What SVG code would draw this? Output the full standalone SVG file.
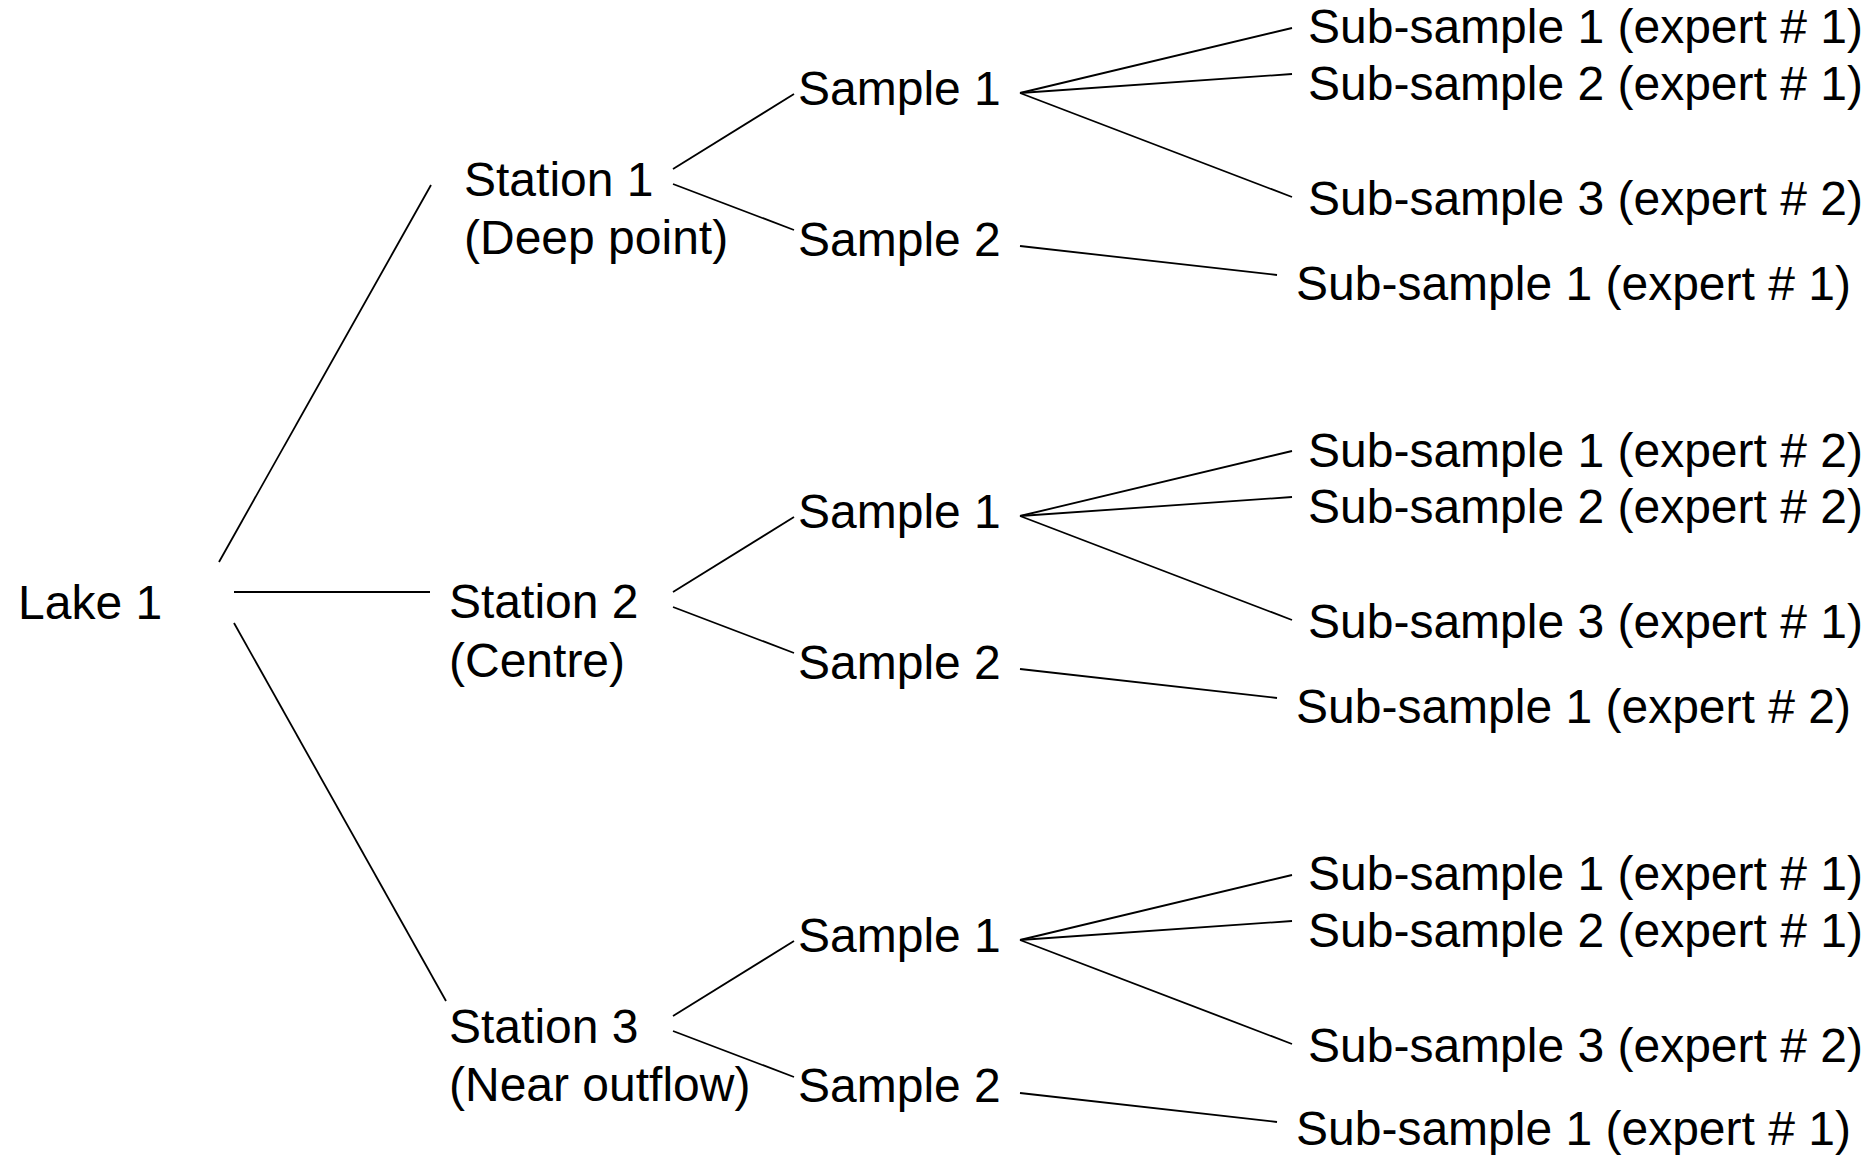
<svg xmlns="http://www.w3.org/2000/svg" width="1876" height="1158" viewBox="0 0 1876 1158">
<style>
text{font-family:"Liberation Sans",Arial,sans-serif;font-size:48px;fill:#000}
line{stroke:#000;stroke-width:1.8;fill:none}
</style>
<rect width="1876" height="1158" fill="#fff"/>
<g id="connectors">
<line x1="219" y1="562" x2="431" y2="185"/>
<line x1="234" y1="592" x2="430" y2="592"/>
<line x1="234" y1="623" x2="446" y2="1001"/>
<g id="c-st1">
<line x1="673" y1="169" x2="794" y2="94"/>
<line x1="673" y1="184" x2="794" y2="230"/>
<line x1="1020" y1="93" x2="1292" y2="28"/>
<line x1="1020" y1="93" x2="1292" y2="74"/>
<line x1="1020" y1="93" x2="1292" y2="197"/>
<line x1="1020" y1="246" x2="1277" y2="275"/>
</g>
<g id="c-st2" transform="translate(0,423)">
<line x1="673" y1="169" x2="794" y2="94"/>
<line x1="673" y1="184" x2="794" y2="230"/>
<line x1="1020" y1="93" x2="1292" y2="28"/>
<line x1="1020" y1="93" x2="1292" y2="74"/>
<line x1="1020" y1="93" x2="1292" y2="197"/>
<line x1="1020" y1="246" x2="1277" y2="275"/>
</g>
<g id="c-st3" transform="translate(0,847)">
<line x1="673" y1="169" x2="794" y2="94"/>
<line x1="673" y1="184" x2="794" y2="230"/>
<line x1="1020" y1="93" x2="1292" y2="28"/>
<line x1="1020" y1="93" x2="1292" y2="74"/>
<line x1="1020" y1="93" x2="1292" y2="197"/>
<line x1="1020" y1="246" x2="1277" y2="275"/>
</g>
</g>
<g id="lake1"><text x="18" y="619">Lake 1</text></g>
<g id="station1"><text x="464" y="196">Station 1</text><text x="464" y="254">(Deep point)</text></g>
<g id="station2"><text x="449" y="618">Station 2</text><text x="449" y="677">(Centre)</text></g>
<g id="station3"><text x="449" y="1043">Station 3</text><text x="449" y="1101">(Near outflow)</text></g>
<g id="s1-sample1"><text x="798" y="105">Sample 1</text></g>
<g id="s1-sample2"><text x="798" y="256">Sample 2</text></g>
<g id="s1-sub1"><text x="1308" y="43">Sub-sample 1 (expert # 1)</text></g>
<g id="s1-sub2"><text x="1308" y="100">Sub-sample 2 (expert # 1)</text></g>
<g id="s1-sub3"><text x="1308" y="215">Sub-sample 3 (expert # 2)</text></g>
<g id="s1-sub4"><text x="1296" y="300">Sub-sample 1 (expert # 1)</text></g>
<g id="s2-sample1"><text x="798" y="528">Sample 1</text></g>
<g id="s2-sample2"><text x="798" y="679">Sample 2</text></g>
<g id="s2-sub1"><text x="1308" y="467">Sub-sample 1 (expert # 2)</text></g>
<g id="s2-sub2"><text x="1308" y="523">Sub-sample 2 (expert # 2)</text></g>
<g id="s2-sub3"><text x="1308" y="638">Sub-sample 3 (expert # 1)</text></g>
<g id="s2-sub4"><text x="1296" y="723">Sub-sample 1 (expert # 2)</text></g>
<g id="s3-sample1"><text x="798" y="952">Sample 1</text></g>
<g id="s3-sample2"><text x="798" y="1102">Sample 2</text></g>
<g id="s3-sub1"><text x="1308" y="890">Sub-sample 1 (expert # 1)</text></g>
<g id="s3-sub2"><text x="1308" y="947">Sub-sample 2 (expert # 1)</text></g>
<g id="s3-sub3"><text x="1308" y="1062">Sub-sample 3 (expert # 2)</text></g>
<g id="s3-sub4"><text x="1296" y="1145">Sub-sample 1 (expert # 1)</text></g>
</svg>
